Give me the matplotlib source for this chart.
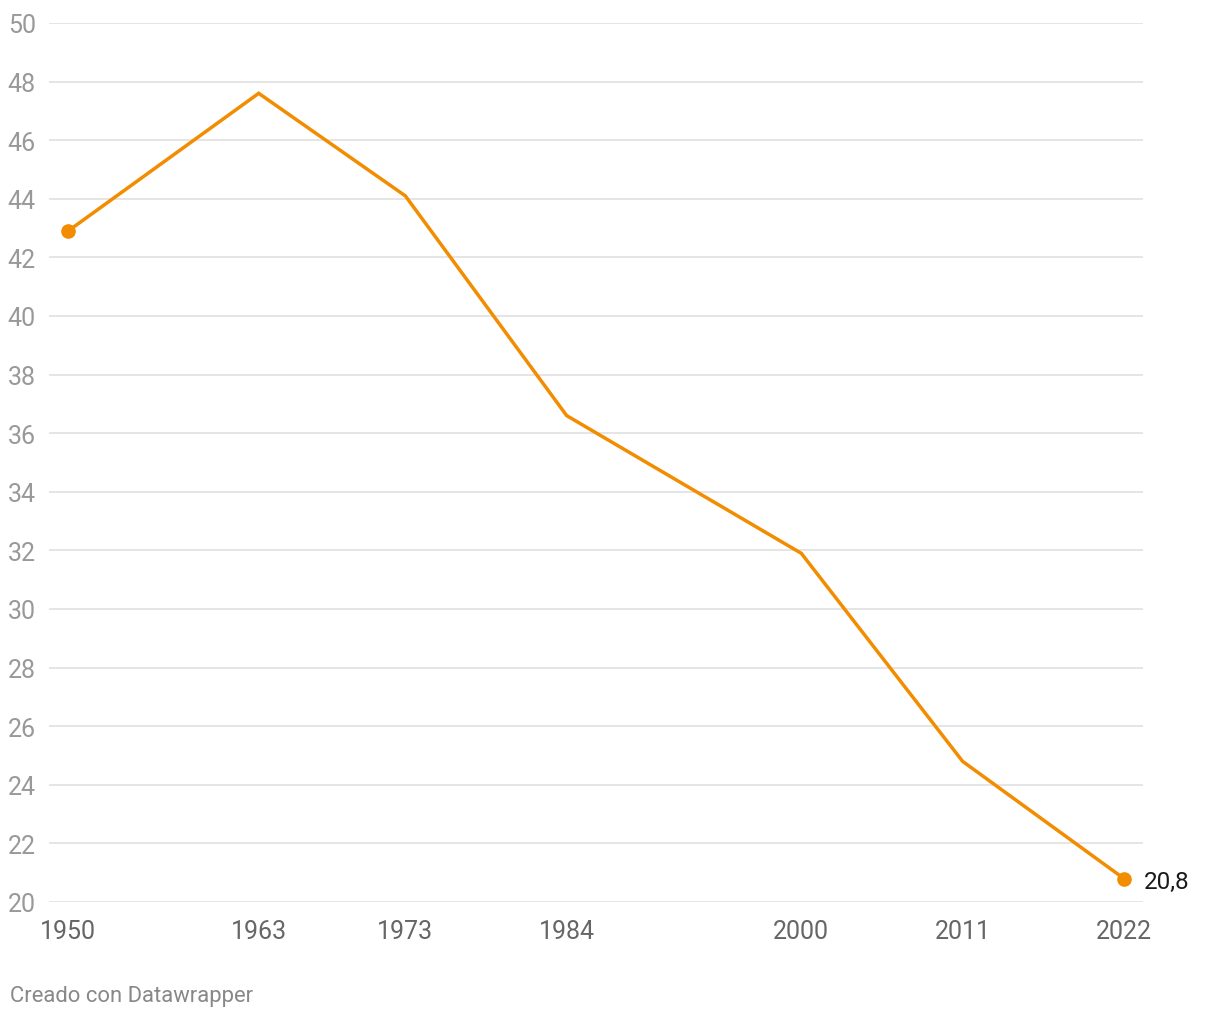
#!/usr/bin/env python3

import matplotlib
matplotlib.use('Agg')
import matplotlib.pyplot as plt

YEARS = [1950, 1963, 1973, 1984, 2000, 2011, 2022]
VALUES = [42.9, 47.6, 44.1, 36.6, 31.9, 24.8, 20.8]
Y_TICKS = list(range(20, 51, 2))

ORANGE = '#f28c00'

plt.rcParams['font.family'] = ['Roboto', 'DejaVu Sans']

fig = plt.figure(figsize=(12.2, 10.2), dpi=100)
ax = fig.add_axes([49 / 1220, 117 / 1020, (1143 - 49) / 1220, (903 - 24) / 1020])

ax.plot(YEARS, VALUES, color=ORANGE, linewidth=2.5, solid_joinstyle='miter', zorder=3)
ax.plot([YEARS[0], YEARS[-1]], [VALUES[0], VALUES[-1]], 'o', color=ORANGE,
        markersize=9.5, zorder=4)
ax.annotate(f'{VALUES[-1]:.1f}'.replace('.', ','), (YEARS[-1], VALUES[-1]),
            xytext=(14, -2), textcoords='offset points', va='center', ha='left',
            fontsize=17.5, color='#1a1a1a')

ax.set_xlim(1948.70, 2023.30)
ax.set_ylim(20, 50)
ax.set_yticks(Y_TICKS)
ax.set_xticks(YEARS)
ax.set_xticklabels([str(y) for y in YEARS])
ax.grid(axis='y', color='#e0e0e0', linewidth=1.2)
ax.set_axisbelow(True)
for s in ax.spines.values():
    s.set_visible(False)
ax.tick_params(axis='y', length=0, pad=9.5, labelsize=18, labelcolor='#999999')
ax.tick_params(axis='x', length=0, pad=12, labelsize=18, labelcolor='#666666')

fig.text(10 / 1220, 1 - 997 / 1020, 'Creado con Datawrapper', fontsize=15.8,
         color='#888888', va='center', ha='left')

plt.savefig('out.png', dpi=100)
